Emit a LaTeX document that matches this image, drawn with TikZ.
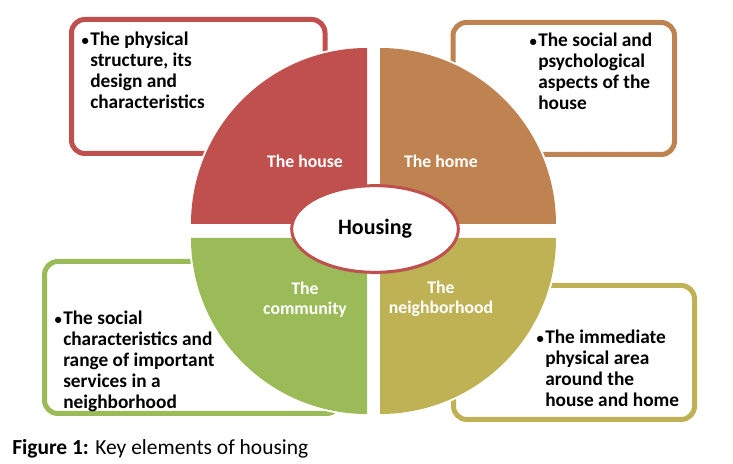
\documentclass[tikz,border=0pt]{standalone}
\usepackage{fontspec}
\setmainfont{Carlito}
\usepackage{xcolor}
\usetikzlibrary{shadows, shapes.geometric}

\definecolor{houseRed}{HTML}{C0504D}
\definecolor{homeBrown}{HTML}{BE8350}
\definecolor{nbhdOlive}{HTML}{BFB255}
\definecolor{commGreen}{HTML}{9BBB59}

\newcommand{\dotmark}{\llap{\fontsize{11}{11}\selectfont\textbullet\kern1pt}}

\tikzset{
  infobox/.style={line width=3.75pt, rounded corners=10pt},
  sector/.style={preaction={draw=white, line width=3pt}},
  sectorlabel/.style={white, font=\fontsize{13.3}{15}\selectfont\bfseries, align=center},
  infotext/.style={anchor=north west, inner sep=0pt, align=left, font=\fontsize{14.5}{15.75}\selectfont\bfseries},
}

\begin{document}
\begin{tikzpicture}[x=0.75pt, y=0.75pt]
\useasboundingbox (0,0) rectangle (733,464);

\draw[infobox, houseRed] (71.5,310.5) rectangle (325,444.5);
\draw[infobox, homeBrown] (453,309.5) rectangle (674.5,441.5);
\draw[infobox, nbhdOlive] (453.5,44.5) rectangle (694.5,178.5);
\draw[infobox, commGreen] (44.5,50.5) rectangle (340,202.5);

\fill[sector, houseRed] (367,240) -- (191,240) arc (180:90:176) -- cycle;
\fill[sector, homeBrown] (380,240) -- (380,416) arc (90:0:176) -- cycle;
\fill[sector, nbhdOlive] (380,226) -- (556,226) arc (0:-90:176) -- cycle;
\fill[sector, commGreen] (367,226) -- (367,50) arc (-90:-180:176) -- cycle;

\node[sectorlabel] (house) at (305,303) {The house};
\node[sectorlabel] (home) at (441,303) {The home};
\node[sectorlabel] (community) at (305,164.5) {The\\community};
\node[sectorlabel] (neighborhood) at (441,165.5) {The\\neighborhood};

\node[draw=houseRed, fill=white, line width=2.25pt, ellipse, minimum width=125pt, minimum height=65pt, inner sep=0pt,
  drop shadow={shadow xshift=0.5pt, shadow yshift=-1.5pt, opacity=0.3},
  font=\fontsize{16.5}{19}\selectfont\bfseries] (housing) at (375,235) {Housing};

\node[infotext] (physical) at (90,432.5) {\dotmark The physical\\structure, its\\design and\\characteristics};
\node[infotext] (social) at (538,431) {\dotmark The social and\\psychological\\aspects of the\\house};
\node[infotext] (immediate) at (545,134) {\dotmark The immediate\\physical area\\around the\\house and home};
\node[infotext] (services) at (63,153) {\dotmark The social\\characteristics and\\range of important\\services in a\\neighborhood};

\node[anchor=base west, inner sep=0pt, font=\fontsize{16.1}{19}\selectfont] (caption) at (12,9) {\textbf{Figure 1:} Key elements of housing};
\end{tikzpicture}
\end{document}
